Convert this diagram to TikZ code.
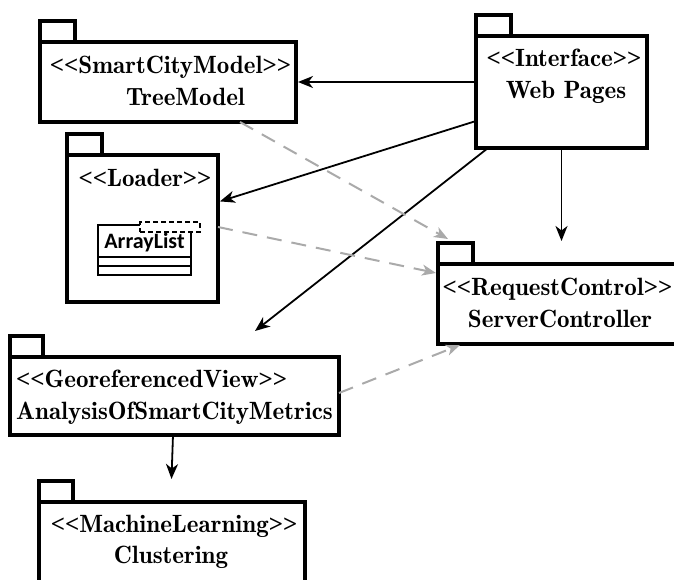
\documentclass[tikz,border=0pt]{standalone}
\usepackage{fontspec}
\setmainfont{Liberation Serif}[Ligatures=TeXOff]
\newfontfamily\pkgfont{lmromandemi10-regular.otf}[Ligatures=TeXOff]
\newfontfamily\chevfont{Liberation Serif}[Ligatures=TeXOff, UprightFont={* Bold}]
\newfontfamily\classfont{Carlito}[Ligatures=TeXOff]
\newcommand\stereotype[1]{{\chevfont<<}#1{\chevfont>>}}
\usetikzlibrary{arrows.meta,calc}

\definecolor{depgrey}{RGB}{170,170,170}

\tikzset{
  pkg/.style={draw, line width=3.6pt, fill=white, inner sep=0pt, outer sep=0pt},
  pkgtab/.style={pkg, minimum width=35pt, minimum height=21pt, anchor=south west},
  lbl/.style={inner sep=0pt, anchor=base, font=\pkgfont\fontsize{25}{30}\selectfont},
  uses/.style={line width=1.8pt, -{Stealth[length=15pt,width=12pt,inset=4.5pt]}},
  access/.style={line width=2pt, depgrey, dash pattern=on 15pt off 10pt,
    -{Stealth[length=14pt,width=11pt,inset=4pt]}},
  classbox/.style={draw, line width=1.5pt, inner sep=0pt, outer sep=0pt}
}

\begin{document}
\begin{tikzpicture}[x=1pt, y=-1pt]
\clip (0,0) rectangle (674,580);
\fill[white] (0,0) rectangle (674,580);

% package bodies
\node[pkg, minimum width=256pt, minimum height=80pt]  (tm) at (168,82) {};
\node[pkg, minimum width=171pt, minimum height=112pt] (wp) at (561.5,92) {};
\node[pkg, minimum width=151pt, minimum height=147pt] (ld) at (142.5,228.5) {};
\node[pkg, minimum width=244pt, minimum height=80pt]  (sc) at (560,304) {};
\node[pkg, minimum width=329pt, minimum height=78pt]  (gv) at (174.5,396) {};
\node[pkg, minimum width=266pt, minimum height=90pt]  (cl) at (172,547) {};

% package tabs
\node[pkgtab] (tmtab) at (tm.north west) {};
\node[pkgtab] (wptab) at (wp.north west) {};
\node[pkgtab] (ldtab) at (ld.north west) {};
\node[pkgtab] (sctab) at (sc.north west) {};
\node[pkgtab, minimum width=33pt] (gvtab) at (gv.north west) {};
\node[pkgtab, minimum width=34pt] (cltab) at (cl.north west) {};

% package labels
\node[lbl] (tmst) at (170.5,73.5) {\stereotype{SmartCityModel}};
\node[lbl] (tmnm) at (185.5,106) {TreeModel};
\node[lbl] (wpst) at (564,67) {\stereotype{Interface}};
\node[lbl] (wpnm) at (566,99) {Web Pages};
\node[lbl] (ldst) at (145,186) {\stereotype{Loader}};
\node[lbl] (scst) at (557.5,295) {\stereotype{RequestControl}};
\node[lbl] (scnm) at (560,327) {ServerController};
\node[lbl, anchor=base west] (gvst) at (16,387) {\stereotype{GeoreferencedView}};
\node[lbl, anchor=base west] (gvnm) at (16,419) {AnalysisOfSmartCityMetrics};
\node[lbl] (clst) at (174,532) {\stereotype{MachineLearning}};
\node[lbl] (clnm) at (171,563) {Clustering};

% ArrayList class with template parameter box
\node[classbox, minimum width=93pt, minimum height=50pt] (al) at (144.5,250) {};
\node[inner sep=0pt, anchor=base, font=\classfont\fontsize{22}{26}\selectfont\bfseries]
  (alnm) at (144.5,248) {ArrayList};
\draw[line width=1.5pt] ($(al.north west)+(0,32)$) coordinate (alc1) -- (alc1 -| al.east);
\draw[line width=1.5pt] ($(al.north west)+(0,41)$) coordinate (alc2) -- (alc2 -| al.east);
\node[draw, fill=white, line width=1.5pt, dash pattern=on 5pt off 3pt,
  minimum width=60pt, minimum height=10pt, inner sep=0pt] (alt) at (170,227) {};

% dependencies from Web Pages
\draw[uses, shorten >=2pt] ($(wp.west)+(0,-10)$) -- (tm.east);
\draw[uses, shorten >=2pt] ($(wp.west)+(0,29)$) -- ($(ld.east)+(0,-26.5)$);
\draw[uses] ($(wp.south west)+(12,0)$) -- ($(gv.north)+(80.5,-26)$);
\draw[uses] (wp.south) -- ($(sctab.north west)+(123.5,-2)$);
\draw[uses] ($(gv.south)+(-1.5,0)$) -- ($(cltab.north west)+(132.5,-2)$);

% access dependencies to ServerController
\draw[access] ($(tm.south)+(72,0)$) -- ($(sctab.north west)+(10,-4)$);
\draw[access] ($(ld.east)+(0,-1.5)$) -- ($(sc.west)+(-2,-31)$);
\draw[access] ($(gv.east)+(0,-3)$) -- ($(sc.south west)+(22,1)$);
\end{tikzpicture}
\end{document}
